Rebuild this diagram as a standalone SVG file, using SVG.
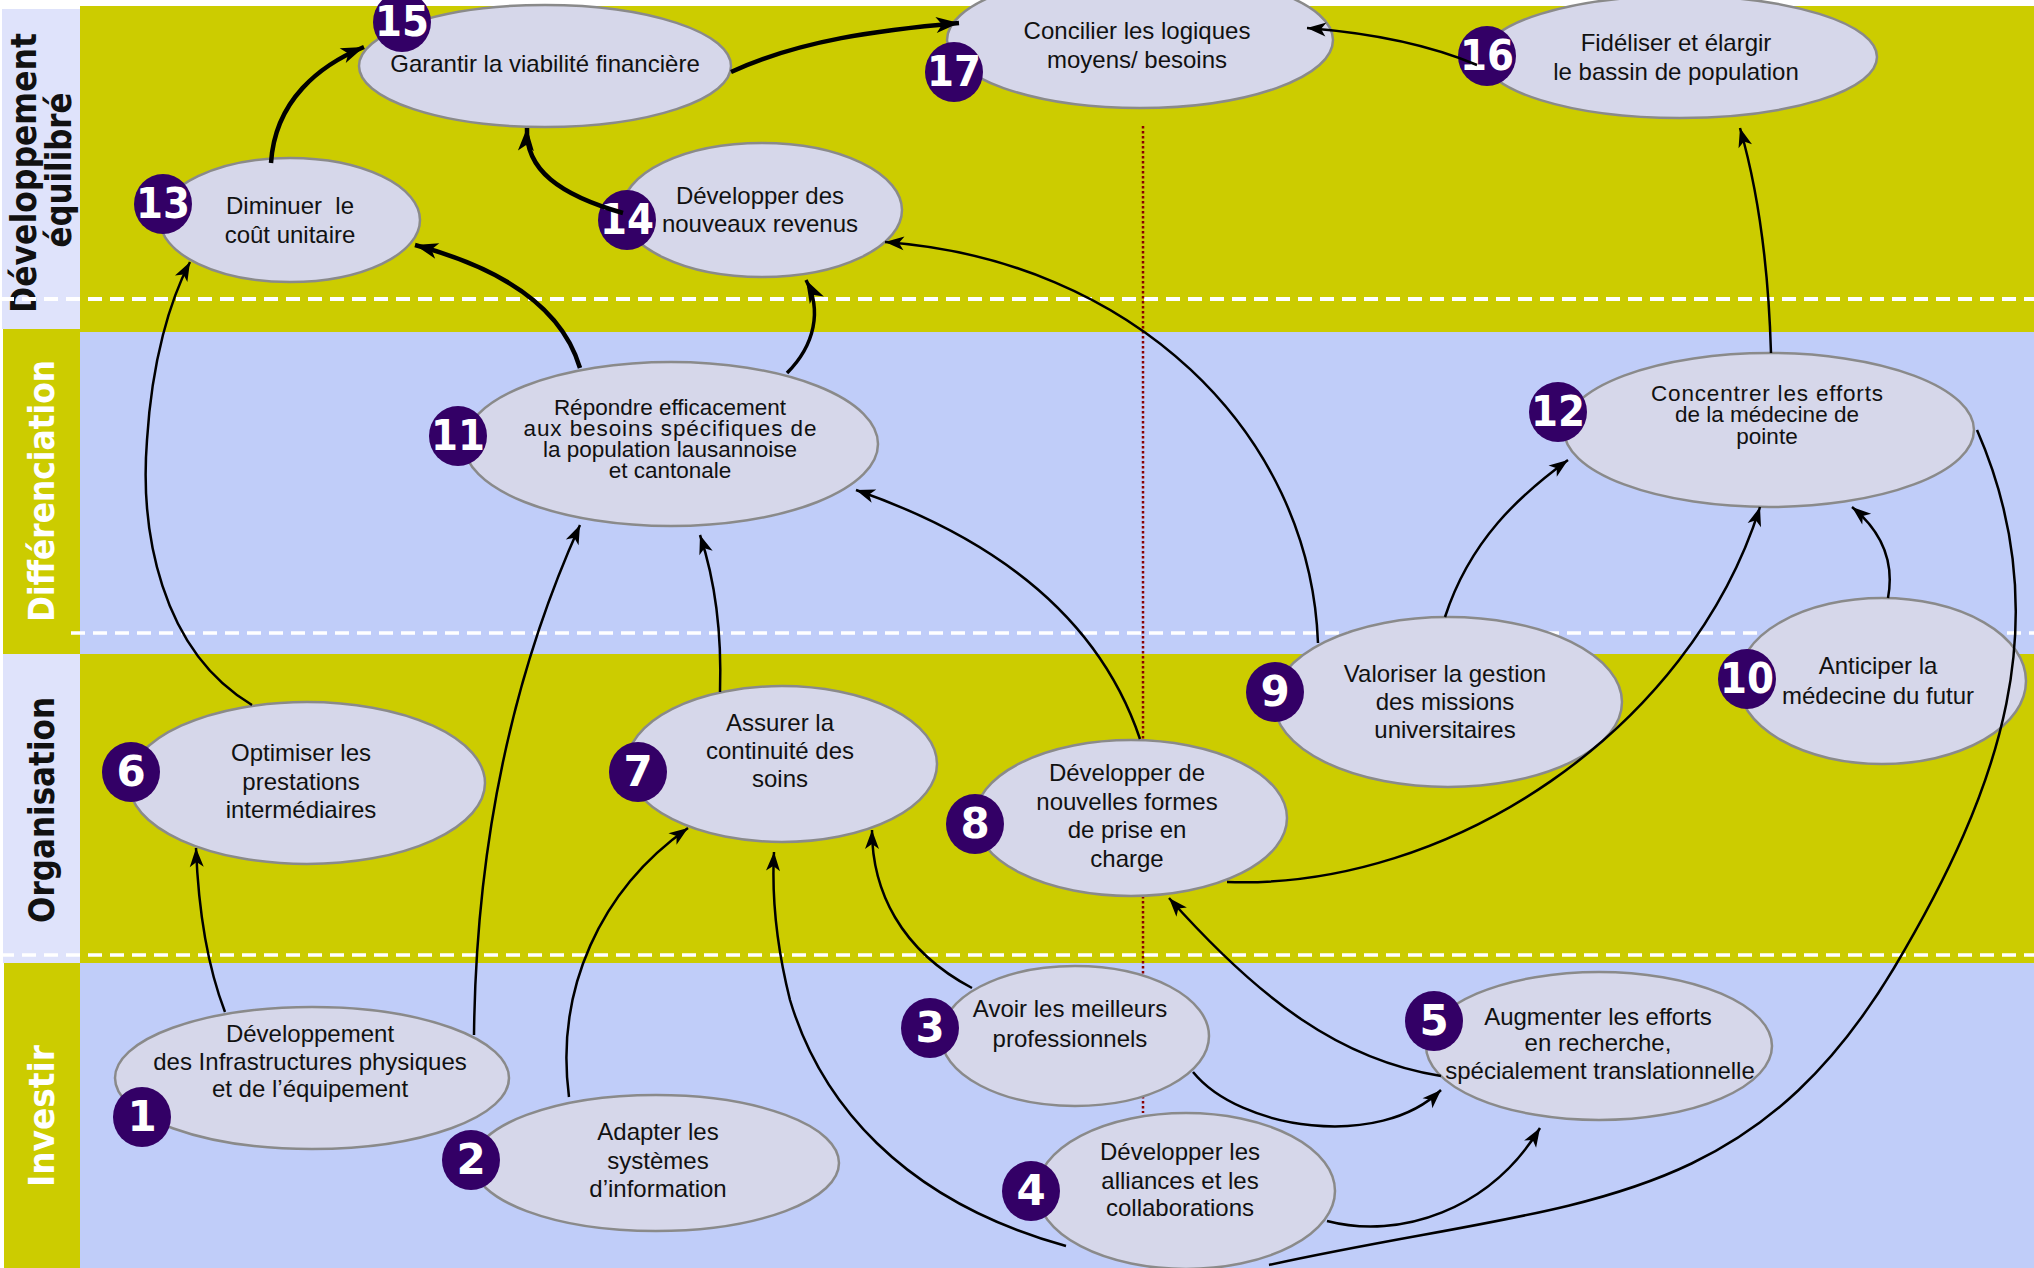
<svg xmlns="http://www.w3.org/2000/svg" width="2034" height="1268" viewBox="0 0 2034 1268">
<style>
.by{fill:#cccc00}
.bb{fill:#c0cdf9}
.lav{fill:#dfe3fb}
.dash{fill:none;stroke:#fff;stroke-width:3.5;stroke-dasharray:14 8}
.e{fill:#d6d7ea;stroke:#8a8a8a;stroke-width:2.5}
.bd{fill:#330066}
.num{font-family:"DejaVu Sans",sans-serif;font-weight:bold;font-size:42px;fill:#fff;text-anchor:middle}
.t{font-family:"Liberation Sans",Arial,sans-serif;font-size:24px;fill:#111;text-anchor:middle}
.tt{font-size:22.5px}
.lbl{font-family:"DejaVu Sans",sans-serif;font-weight:bold;font-size:35px;text-anchor:middle}
.c{fill:none;stroke:#000;stroke-width:2.5}
.ct{fill:none;stroke:#000;stroke-width:4.5}
</style>
<defs>
<marker id="a" markerUnits="userSpaceOnUse" markerWidth="24" markerHeight="20" refX="20" refY="10" orient="auto" overflow="visible"><path d="M20,10 L1,3 L6,10 L1,17 Z" fill="#000"/></marker>
<marker id="at" markerUnits="userSpaceOnUse" markerWidth="28" markerHeight="24" refX="24" refY="12" orient="auto" overflow="visible"><path d="M24,12 L1,4 L7,12 L1,20 Z" fill="#000"/></marker>
</defs>
<rect x="0" y="0" width="2034" height="1268" fill="#fff"/>
<g id="bands">
<rect class="by" x="80" y="6" width="1954" height="326"/>
<rect class="bb" x="80" y="332" width="1954" height="322"/>
<rect class="by" x="80" y="654" width="1954" height="309"/>
<rect class="bb" x="80" y="963" width="1954" height="305"/>
<rect class="lav" x="2" y="9" width="78" height="320"/>
<rect class="by" x="3" y="329" width="77" height="325"/>
<rect class="lav" x="3" y="654" width="77" height="309"/>
<rect class="by" x="4" y="963" width="76" height="305"/>
<text class="lbl" fill="#111" transform="translate(36,173) rotate(-90)" textLength="280" lengthAdjust="spacingAndGlyphs">Développement</text>
<text class="lbl" fill="#111" transform="translate(71,170) rotate(-90)" textLength="155" lengthAdjust="spacingAndGlyphs">équilibré</text>
<text class="lbl" fill="#fff" transform="translate(54,491) rotate(-90)" textLength="262" lengthAdjust="spacingAndGlyphs">Différenciation</text>
<text class="lbl" fill="#111" transform="translate(54,810) rotate(-90)" textLength="226" lengthAdjust="spacingAndGlyphs">Organisation</text>
<text class="lbl" fill="#fff" transform="translate(54,1116) rotate(-90)" textLength="142" lengthAdjust="spacingAndGlyphs">Investir</text>
<line class="dash" x1="0" y1="299" x2="2034" y2="299" style="stroke-width:4"/>
<line class="dash" x1="71" y1="633" x2="2034" y2="633"/>
<line class="dash" x1="0" y1="955" x2="2034" y2="955"/>
<line x1="1143" y1="126" x2="1143" y2="1113" stroke="#8b0000" stroke-width="2.5" stroke-dasharray="2.5 2.5"/>
</g>
<g id="n15"><ellipse class="e" cx="545" cy="66" rx="186" ry="61"/><text class="t" x="545" y="72">Garantir la viabilité financière</text><ellipse class="bd" cx="402" cy="22" rx="29" ry="30"/><text class="num" x="402" y="36" textLength="54" lengthAdjust="spacingAndGlyphs">15</text></g>
<g id="n17"><ellipse class="e" cx="1140" cy="40" rx="193" ry="68"/><text class="t"><tspan x="1137" y="39">Concilier les logiques</tspan><tspan x="1137" y="68">moyens/ besoins</tspan></text><ellipse class="bd" cx="954" cy="72" rx="29" ry="30"/><text class="num" x="954" y="86" textLength="54" lengthAdjust="spacingAndGlyphs">17</text></g>
<g id="n16"><ellipse class="e" cx="1680" cy="57" rx="197" ry="61"/><text class="t"><tspan x="1676" y="51">Fidéliser et élargir</tspan><tspan x="1676" y="80">le bassin de population</tspan></text><ellipse class="bd" cx="1487" cy="56" rx="29" ry="30"/><text class="num" x="1487" y="70" textLength="54" lengthAdjust="spacingAndGlyphs">16</text></g>
<g id="n13"><ellipse class="e" cx="290" cy="220" rx="130" ry="62"/><text class="t" xml:space="preserve"><tspan x="290" y="214">Diminuer  le</tspan><tspan x="290" y="243">coût unitaire</tspan></text><ellipse class="bd" cx="163" cy="204" rx="29" ry="30"/><text class="num" x="163" y="218" textLength="54" lengthAdjust="spacingAndGlyphs">13</text></g>
<g id="n14"><ellipse class="e" cx="762" cy="210" rx="140" ry="67"/><text class="t"><tspan x="760" y="204">Développer des</tspan><tspan x="760" y="232">nouveaux revenus</tspan></text><ellipse class="bd" cx="627" cy="220" rx="29" ry="30"/><text class="num" x="627" y="234" textLength="54" lengthAdjust="spacingAndGlyphs">14</text></g>
<g id="n11"><ellipse class="e" cx="671" cy="444" rx="207" ry="82"/><text class="t tt"><tspan x="670" y="415">Répondre efficacement</tspan><tspan x="670" y="436" textLength="293">aux besoins spécifiques de</tspan><tspan x="670" y="457">la population lausannoise</tspan><tspan x="670" y="478">et cantonale</tspan></text><ellipse class="bd" cx="458" cy="436" rx="29" ry="30"/><text class="num" x="458" y="450" textLength="54" lengthAdjust="spacingAndGlyphs">11</text></g>
<g id="n12"><ellipse class="e" cx="1769" cy="430" rx="205" ry="77"/><text class="t tt"><tspan x="1767" y="401" textLength="232">Concentrer les efforts</tspan><tspan x="1767" y="422">de la médecine de</tspan><tspan x="1767" y="444">pointe</tspan></text><ellipse class="bd" cx="1558" cy="412" rx="29" ry="30"/><text class="num" x="1558" y="426" textLength="54" lengthAdjust="spacingAndGlyphs">12</text></g>
<g id="n6"><ellipse class="e" cx="307" cy="783" rx="178" ry="81"/><text class="t"><tspan x="301" y="761">Optimiser les</tspan><tspan x="301" y="790">prestations</tspan><tspan x="301" y="818">intermédiaires</tspan></text><ellipse class="bd" cx="131" cy="772" rx="29" ry="30"/><text class="num" x="131" y="786">6</text></g>
<g id="n7"><ellipse class="e" cx="782" cy="764" rx="155" ry="78"/><text class="t"><tspan x="780" y="731">Assurer la</tspan><tspan x="780" y="759">continuité des</tspan><tspan x="780" y="787">soins</tspan></text><ellipse class="bd" cx="638" cy="772" rx="29" ry="30"/><text class="num" x="638" y="786">7</text></g>
<g id="n8"><ellipse class="e" cx="1131" cy="818" rx="156" ry="78"/><text class="t"><tspan x="1127" y="781">Développer de</tspan><tspan x="1127" y="810">nouvelles formes</tspan><tspan x="1127" y="838">de prise en</tspan><tspan x="1127" y="867">charge</tspan></text><ellipse class="bd" cx="975" cy="824" rx="29" ry="30"/><text class="num" x="975" y="838">8</text></g>
<g id="n9"><ellipse class="e" cx="1448" cy="702" rx="174" ry="85"/><text class="t"><tspan x="1445" y="682">Valoriser la gestion</tspan><tspan x="1445" y="710">des missions</tspan><tspan x="1445" y="738">universitaires</tspan></text><ellipse class="bd" cx="1275" cy="692" rx="29" ry="30"/><text class="num" x="1275" y="706">9</text></g>
<g id="n10"><ellipse class="e" cx="1882" cy="681" rx="144" ry="83"/><text class="t"><tspan x="1878" y="674">Anticiper la</tspan><tspan x="1878" y="704">médecine du futur</tspan></text><ellipse class="bd" cx="1747" cy="679" rx="29" ry="30"/><text class="num" x="1747" y="693" textLength="54" lengthAdjust="spacingAndGlyphs">10</text></g>
<g id="n1"><ellipse class="e" cx="312" cy="1078" rx="197" ry="71"/><text class="t"><tspan x="310" y="1042">Développement</tspan><tspan x="310" y="1070">des Infrastructures physiques</tspan><tspan x="310" y="1097">et de l’équipement</tspan></text><ellipse class="bd" cx="142" cy="1117" rx="29" ry="30"/><text class="num" x="142" y="1131">1</text></g>
<g id="n2"><ellipse class="e" cx="656" cy="1163" rx="183" ry="68"/><text class="t"><tspan x="658" y="1140">Adapter les</tspan><tspan x="658" y="1169">systèmes</tspan><tspan x="658" y="1197">d’information</tspan></text><ellipse class="bd" cx="471" cy="1160" rx="29" ry="30"/><text class="num" x="471" y="1174">2</text></g>
<g id="n3"><ellipse class="e" cx="1075" cy="1036" rx="134" ry="70"/><text class="t"><tspan x="1070" y="1017">Avoir les meilleurs</tspan><tspan x="1070" y="1047">professionnels</tspan></text><ellipse class="bd" cx="930" cy="1028" rx="29" ry="30"/><text class="num" x="930" y="1042">3</text></g>
<g id="n4"><ellipse class="e" cx="1186" cy="1191" rx="149" ry="78"/><text class="t"><tspan x="1180" y="1160">Développer les</tspan><tspan x="1180" y="1189">alliances et les</tspan><tspan x="1180" y="1216">collaborations</tspan></text><ellipse class="bd" cx="1031" cy="1191" rx="29" ry="30"/><text class="num" x="1031" y="1205">4</text></g>
<g id="n5"><ellipse class="e" cx="1599" cy="1046" rx="173" ry="74"/><text class="t"><tspan x="1598" y="1025">Augmenter les efforts</tspan><tspan x="1598" y="1051">en recherche,</tspan><tspan x="1600" y="1079">spécialement translationnelle</tspan></text><ellipse class="bd" cx="1434" cy="1021" rx="29" ry="30"/><text class="num" x="1434" y="1035">5</text></g>
<g id="connectors">
<path class="ct" marker-end="url(#at)" d="M271,163 C275,100 320,65 364,47"/>
<path class="ct" marker-end="url(#at)" d="M731,72 C800,40 880,30 959,23"/>
<path class="ct" marker-end="url(#at)" d="M623,213 C560,195 525,170 527,128"/>
<path class="ct" marker-end="url(#at)" d="M580,368 C560,300 490,265 415,245"/>
<path class="c" style="stroke-width:3.5" marker-end="url(#at)" d="M787,373 C815,345 822,310 806,280"/>
<path class="c" marker-end="url(#a)" d="M225,1012 C205,960 198,900 196,848"/>
<path class="c" marker-end="url(#a)" d="M474,1035 C476,850 510,680 580,525"/>
<path class="c" marker-end="url(#a)" d="M252,705 C160,650 140,530 147,440 C152,360 170,300 190,262"/>
<path class="c" marker-end="url(#a)" d="M569,1097 C555,990 600,890 688,828"/>
<path class="c" marker-end="url(#a)" d="M1066,1246 C900,1200 820,1100 790,1000 C775,940 772,890 774,852"/>
<path class="c" marker-end="url(#a)" d="M972,988 C900,950 872,890 872,830"/>
<path class="c" marker-end="url(#a)" d="M720,692 C722,630 715,580 700,535"/>
<path class="c" marker-end="url(#a)" d="M1140,739 C1100,620 1000,540 856,490"/>
<path class="c" marker-end="url(#a)" d="M1318,643 C1310,430 1130,260 885,242"/>
<path class="c" marker-end="url(#a)" d="M1445,617 C1470,540 1520,495 1568,460"/>
<path class="c" marker-end="url(#a)" d="M1227,882 C1450,890 1690,730 1760,507"/>
<path class="c" marker-end="url(#a)" d="M1888,598 C1895,560 1880,530 1852,507"/>
<path class="c" marker-end="url(#a)" d="M1771,353 C1768,250 1755,180 1740,128"/>
<path class="c" marker-end="url(#a)" d="M1477,65 C1430,45 1370,33 1307,28"/>
<path class="c" marker-end="url(#a)" d="M1193,1072 C1240,1130 1380,1150 1441,1090"/>
<path class="c" marker-end="url(#a)" d="M1327,1221 C1400,1240 1490,1210 1540,1128"/>
<path class="c" marker-end="url(#a)" d="M1441,1076 C1340,1060 1260,1000 1169,898"/>
<path class="c" d="M1269,1265 C1569,1199 1744,1218 1894,968 C2000,790 2060,620 1977,430"/>
</g>
</svg>
